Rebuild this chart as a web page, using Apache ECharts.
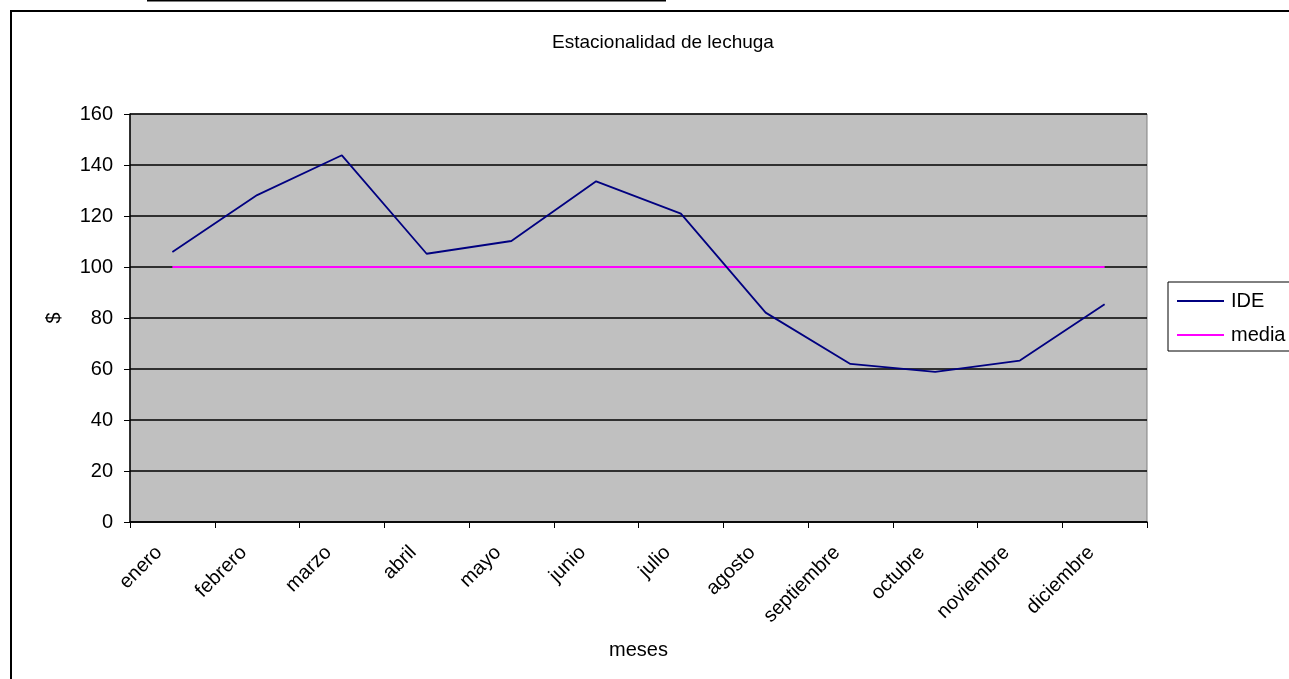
<!DOCTYPE html>
<html>
<head>
<meta charset="utf-8">
<script src="https://cdn.jsdelivr.net/npm/echarts@6/dist/echarts.min.js"></script>
<style>
  html, body { margin: 0; padding: 0; background: #fff; }
  #chart { width: 1289px; height: 679px; }
</style>
</head>
<body>
<div id="chart"></div>
<script>
// Monthly seasonality index for lettuce and its reference mean
const months = ['enero', 'febrero', 'marzo', 'abril', 'mayo', 'junio', 'julio', 'agosto', 'septiembre', 'octubre', 'noviembre', 'diciembre'];
const ide = [105.9, 128.2, 143.8, 105.2, 110.2, 133.6, 120.9, 82.1, 62.0, 58.9, 63.3, 85.4];
const media = [100, 100, 100, 100, 100, 100, 100, 100, 100, 100, 100, 100];
const yTicks = { min: 0, max: 160, interval: 20 };

const FONT = '"Liberation Sans", Arial, sans-serif';
const chart = echarts.init(document.getElementById('chart'), null, { renderer: 'canvas' });

chart.setOption({
  animation: false,
  backgroundColor: '#ffffff',
  textStyle: { fontFamily: FONT, color: '#000' },
  title: {
    text: 'Estacionalidad de lechuga',
    left: 658,
    top: 28,
    textAlign: 'center',
    textStyle: { fontFamily: FONT, fontSize: 19, fontWeight: 'normal', color: '#000' }
  },
  grid: {
    left: 130, right: 142, top: 114, bottom: 157,
    show: true,
    backgroundColor: '#c0c0c0',
    borderColor: '#808080',
    borderWidth: 1
  },
  legend: {
    orient: 'vertical',
    left: 1168,
    top: 282,
    padding: [9, 8, 6, 9],
    itemGap: 14,
    itemWidth: 47,
    itemHeight: 2,
    icon: 'rect',
    borderColor: '#000',
    borderWidth: 1,
    backgroundColor: '#fff',
    textStyle: { fontFamily: FONT, fontSize: 20, lineHeight: 20, color: '#000', padding: [0, 0, 0, 2] },
    data: ['IDE', 'media']
  },
  xAxis: {
    type: 'category',
    data: months,
    boundaryGap: true,
    name: 'meses',
    nameLocation: 'middle',
    nameGap: 118,
    nameTextStyle: { fontFamily: FONT, fontSize: 20, color: '#000' },
    axisLine: { lineStyle: { color: '#000', width: 1.5 } },
    axisTick: { show: true, inside: false, length: 6, alignWithLabel: false, lineStyle: { color: '#000' } },
    axisLabel: { rotate: 45, margin: 14, padding: [0, 19, 0, 0], fontFamily: FONT, fontSize: 20, color: '#000', interval: 0 },
    splitLine: { show: false }
  },
  yAxis: {
    type: 'value',
    min: yTicks.min,
    max: yTicks.max,
    interval: yTicks.interval,
    name: '$',
    nameLocation: 'middle',
    nameGap: 66,
    nameRotate: 90,
    nameTextStyle: { fontFamily: FONT, fontSize: 20, color: '#000' },
    axisLine: { show: true, lineStyle: { color: '#000', width: 1.5 } },
    axisTick: { show: true, inside: false, length: 6, lineStyle: { color: '#000' } },
    axisLabel: { margin: 17, fontFamily: FONT, fontSize: 20, color: '#000' },
    splitLine: { show: true, lineStyle: { color: '#000', width: 1.5 } }
  },
  series: [
    {
      name: 'IDE',
      type: 'line',
      data: ide,
      symbol: 'none',
      itemStyle: { color: '#000080' },
      lineStyle: { color: '#000080', width: 1.8 },
      z: 3
    },
    {
      name: 'media',
      type: 'line',
      data: media,
      symbol: 'none',
      itemStyle: { color: '#ff00ff' },
      lineStyle: { color: '#ff00ff', width: 2 },
      z: 2
    }
  ],
  graphic: [
    {
      type: 'rect',
      shape: { x: 11, y: 11, width: 1300, height: 700 },
      style: { fill: 'none', stroke: '#000', lineWidth: 2 },
      silent: true
    },
    {
      type: 'line',
      shape: { x1: 147, y1: 0.5, x2: 666, y2: 0.5 },
      style: { stroke: '#000', lineWidth: 2 },
      silent: true
    }
  ]
});
</script>
</body>
</html>
